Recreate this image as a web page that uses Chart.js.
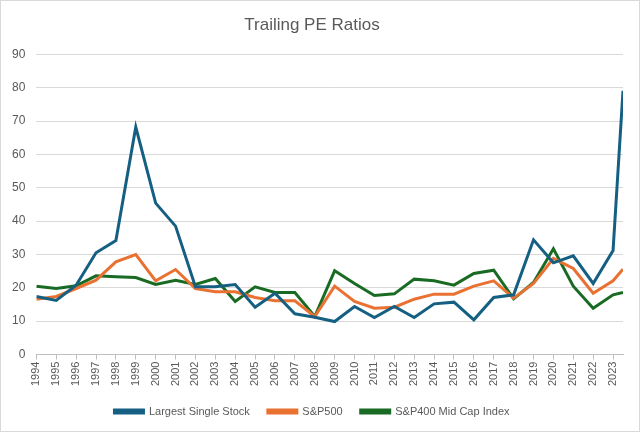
<!DOCTYPE html>
<html>
<head>
<meta charset="utf-8">
<script src="https://cdn.jsdelivr.net/npm/chart.js@4"></script>
<style>
  body { margin: 0; background: #fff; }
  #wrap { width: 640px; height: 432px; box-sizing: border-box; border: 1px solid #d9d9d9; }
</style>
</head>
<body>
<div id="wrap"><canvas id="myCanvas" width="638" height="430"></canvas></div>
<script>
// tick years shown on the axis
const years = [1994, 1995, 1996, 1997, 1998, 1999, 2000, 2001, 2002, 2003, 2004,
  2005, 2006, 2007, 2008, 2009, 2010, 2011, 2012, 2013, 2014, 2015, 2016,
  2017, 2018, 2019, 2020, 2021, 2022, 2023];

// x position of each data point (last one is the partial year after 2023)
const xs = years.concat([2023.5]);

const largestStock = [17.4, 16.2, 20.8, 30.5, 34.2, 68.2, 45.4, 38.5, 20.3, 20.3, 21,
  14.2, 18.4, 12.2, 11.2, 9.9, 14.4, 11.1, 14.4, 11.1, 15.2, 15.7, 10.4,
  17.1, 17.9, 34.4, 27.5, 29.6, 21.3, 31.2, 79.1];
const sp500 = [16.6, 17.4, 19.8, 22.3, 27.8, 30, 22.1, 25.5, 19.8, 18.8, 18.8,
  17.1, 16.1, 16.1, 11.4, 20.5, 15.9, 13.9, 14.2, 16.6, 18.1, 18.1, 20.5,
  22.1, 16.9, 21.3, 28.8, 25.8, 18.4, 22.1, 25.6];
const sp400 = [20.5, 19.8, 20.6, 23.6, 23.3, 23.1, 21, 22.3, 21, 22.8, 15.9,
  20.3, 18.6, 18.6, 11.4, 25.1, 21.3, 17.7, 18.2, 22.6, 22.1, 20.8, 24.3,
  25.3, 16.7, 21.6, 31.7, 20.5, 13.9, 17.9, 18.6];

const toPoints = vals => vals.map((v, i) => ({ x: xs[i], y: v }));

const textColor = '#595959';
const family = "'Liberation Sans', Arial, sans-serif";

const data = {
  datasets: [
    { label: 'Largest Single Stock', data: toPoints(largestStock),
      borderColor: '#156082', backgroundColor: '#156082' },
    { label: 'S&P500', data: toPoints(sp500),
      borderColor: '#E97132', backgroundColor: '#E97132' },
    { label: 'S&P400 Mid Cap Index', data: toPoints(sp400),
      borderColor: '#196B24', backgroundColor: '#196B24' }
  ]
};

const config = {
  type: 'line',
  data: data,
  options: {
    responsive: false,
    animation: false,
    elements: {
      line: { borderWidth: 3, tension: 0 },
      point: { radius: 0 }
    },
    layout: { padding: { left: 0, right: 16, top: 0, bottom: 4 } },
    plugins: {
      title: {
        display: true,
        text: 'Trailing PE Ratios',
        color: textColor,
        font: { family: family, size: 17, weight: 'normal' },
        padding: { top: 14, bottom: 19 }
      },
      legend: {
        position: 'bottom',
        labels: {
          color: textColor,
          font: { family: family, size: 11 },
          boxWidth: 29,
          boxHeight: 3,
          padding: 18
        }
      },
      tooltip: { enabled: false }
    },
    scales: {
      x: {
        type: 'linear',
        min: 1994,
        max: 2023.5,
        afterBuildTicks: scale => { scale.ticks = years.map(v => ({ value: v })); },
        ticks: {
          color: textColor,
          font: { family: family, size: 11 },
          minRotation: 90,
          maxRotation: 90,
          autoSkip: false,
          padding: 2,
          callback: v => String(v)
        },
        grid: { drawOnChartArea: false, color: '#bfbfbf', tickLength: 5 },
        border: { color: '#bfbfbf' }
      },
      y: {
        min: 0,
        max: 90,
        ticks: { stepSize: 10, color: textColor, font: { family: family, size: 12 }, padding: 11 },
        grid: { color: '#d9d9d9', drawTicks: false },
        border: { display: false }
      }
    }
  }
};

const myChart = new Chart(document.getElementById('myCanvas'), config);
</script>
</body>
</html>
